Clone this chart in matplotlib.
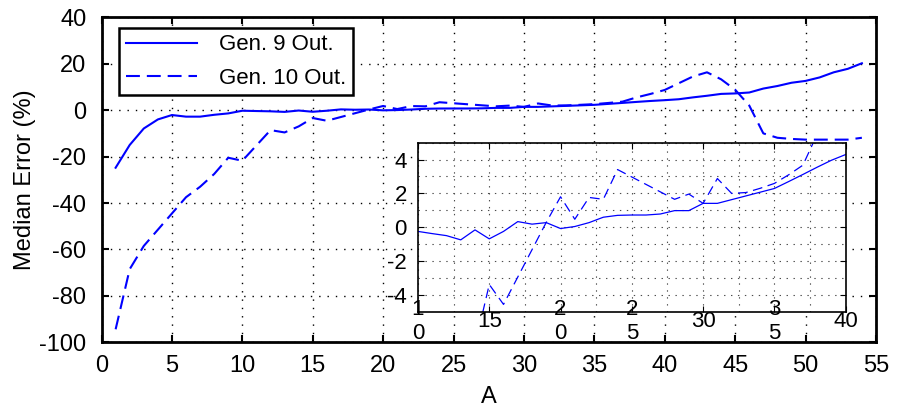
import matplotlib
matplotlib.use("Agg")
import matplotlib.pyplot as plt
from matplotlib.ticker import MultipleLocator

plt.rcParams["font.family"] = ["Liberation Sans", "DejaVu Sans"]
plt.rcParams["font.size"] = 16
plt.rcParams["lines.scale_dashes"] = False
plt.rcParams["axes.unicode_minus"] = False

# Mass number A and median errors (%) of the two generations
mass_number = list(range(1, 55))
gen9_error = [
    -24.8, -15.0, -7.9, -4.0, -2.1, -2.8, -2.8, -2.0, -1.4, -0.25,
    -0.38, -0.5, -0.75, -0.16, -0.69, -0.25, 0.33, 0.18, 0.27, -0.08,
    0.04, 0.27, 0.59, 0.70, 0.72, 0.72, 0.78, 0.98, 0.98, 1.41,
    1.41, 1.63, 1.85, 2.07, 2.29, 2.70, 3.12, 3.55, 3.96, 4.30,
    4.7, 5.5, 6.2, 7.0, 7.2, 7.6, 9.3, 10.4, 11.8, 12.6,
    14.1, 16.3, 17.8, 20.2,
]
gen10_error = [
    -94.4, -68.5, -58.5, -51.5, -44.5, -37.5, -33.0, -27.5, -20.5, -21.8,
    -15.2, -8.6, -9.6, -7.0, -3.39, -4.57, -2.95, -1.33, 0.29, 1.8,
    0.47, 1.76, 1.65, 3.41, 2.97, 2.53, 2.09, 1.65, 1.96, 1.41,
    2.88, 2.0, 2.05, 2.3, 2.59, 3.1, 3.67, 5.5, 7.0, 8.7,
    11.6, 14.5, 16.3, 13.3, 8.8, 2.0, -10.0, -11.9, -12.4, -12.7,
    -12.7, -12.7, -12.7, -11.9,
]
series_labels = ["Gen. 9 Out.", "Gen. 10 Out."]

main_xticks = list(range(0, 56, 5))
main_yticks = list(range(-100, 41, 20))
inset_xticks = list(range(10, 41, 5))
inset_xticklabels = ["1\n0", "15", "2\n0", "2\n5", "30", "3\n5", "40"]
inset_yticks = [-4, -2, 0, 2, 4]

BLUE = "#0000ff"

fig = plt.figure(figsize=(9.01, 4.07), dpi=100)

# ---- main panel ----
ax = fig.add_axes([0.1127, 0.159, 0.8595, 0.7985])
ax.plot(mass_number, gen9_error, color=BLUE, lw=1.5, label=series_labels[0])
ax.plot(mass_number, gen10_error, color=BLUE, lw=1.5, dashes=(10, 5),
        label=series_labels[1])
ax.set_xlim(0, 55)
ax.set_ylim(-100, 40)
ax.set_xticks(main_xticks)
ax.set_yticks(main_yticks)
ax.tick_params(direction="in", top=True, right=True, length=5, width=1.5,
               labelsize=17)
ax.tick_params(axis="x", pad=9.5)
ax.tick_params(axis="y", pad=11)
ax.grid(True, color="black", lw=1.0, linestyle=(0, (1, 5)))
for s in ax.spines.values():
    s.set_linewidth(2)
ax.set_xlabel("A", fontsize=17, labelpad=6)
ax.set_ylabel("Median Error (%)", fontsize=17, labelpad=2)

leg = ax.legend(loc="upper left", bbox_to_anchor=(0.023, 0.968),
                borderaxespad=0, fancybox=False, edgecolor="black",
                framealpha=1, handlelength=3.2, handletextpad=1.0,
                labelspacing=0.55, borderpad=0.3, fontsize=16)
leg.get_frame().set_linewidth(1.8)

# ---- zoomed inset ----
ins = fig.add_axes([0.4639, 0.2342, 0.4747, 0.4152])
ins.plot(mass_number, gen9_error, color=BLUE, lw=0.9)
ins.plot(mass_number, gen10_error, color=BLUE, lw=0.9, dashes=(7, 4))
ins.set_xlim(10, 40)
ins.set_ylim(-5, 5)
ins.set_xticks(inset_xticks)
ins.set_xticklabels(inset_xticklabels, va="center")
ins.set_yticks(inset_yticks)
ins.xaxis.set_minor_locator(MultipleLocator(2.5))
ins.yaxis.set_minor_locator(MultipleLocator(1))
ins.tick_params(which="major", direction="in", top=True, right=True,
                length=4, width=0.8, labelsize=16)
ins.tick_params(which="minor", length=0)
ins.tick_params(axis="x", pad=7)
ins.tick_params(axis="y", pad=8)
ins.grid(which="both", color="0.3", lw=0.8, linestyle=(0, (1, 4)))
for s in ins.spines.values():
    s.set_linewidth(1.2)

fig.savefig("out.png", dpi=100)
